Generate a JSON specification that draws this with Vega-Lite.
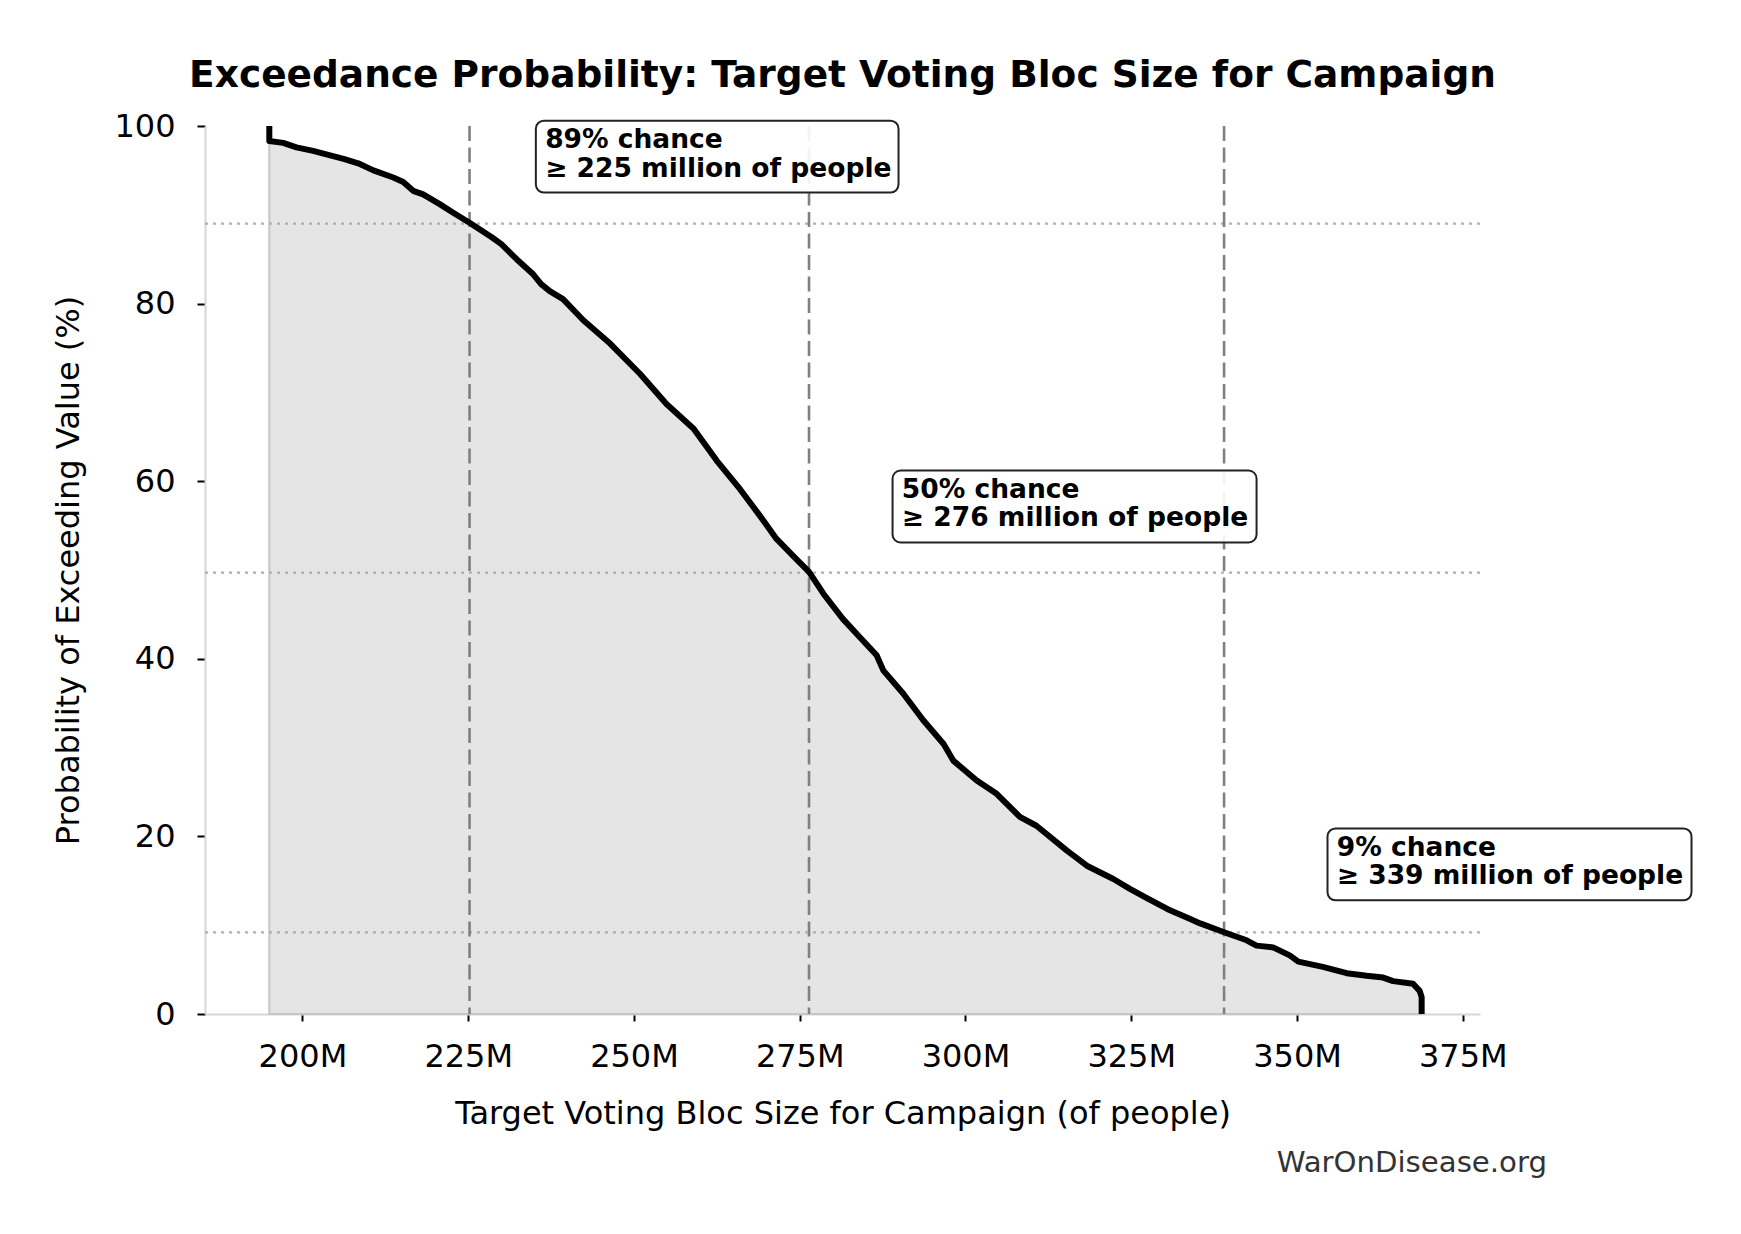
{
  "$schema": "https://vega.github.io/schema/vega-lite/v6.json",
  "autosize": "none",
  "width": 1275,
  "height": 888,
  "padding": {"left": 205, "top": 126, "right": 261, "bottom": 220},
  "background": "white",
  "title": {
    "text": "Exceedance Probability: Target Voting Bloc Size for Campaign",
    "fontSize": 37.5,
    "fontWeight": "bold",
    "color": "black",
    "anchor": "middle",
    "frame": "group",
    "baseline": "alphabetic",
    "offset": 8,
    "dy": 22
  },
  "config": {
    "font": "DejaVu Sans",
    "view": {"stroke": null},
    "axis": {
      "grid": false,
      "labelFont": "DejaVu Sans",
      "titleFont": "DejaVu Sans",
      "labelFontSize": 32,
      "titleFontSize": 32,
      "titleFontWeight": "normal",
      "labelColor": "black",
      "titleColor": "black",
      "tickColor": "black",
      "tickWidth": 2,
      "domainColor": "#d6d6d6",
      "domainWidth": 2
    }
  },
  "datasets": {
    "curve": [
      {"v": 195.0, "p": 100.0},
      {"v": 195.0, "p": 98.3},
      {"v": 197.1, "p": 98.1},
      {"v": 199.1, "p": 97.6},
      {"v": 201.6, "p": 97.2},
      {"v": 203.6, "p": 96.8},
      {"v": 206.2, "p": 96.3},
      {"v": 208.4, "p": 95.8},
      {"v": 210.7, "p": 95.0},
      {"v": 213.7, "p": 94.2},
      {"v": 215.2, "p": 93.7},
      {"v": 216.7, "p": 92.7},
      {"v": 218.2, "p": 92.3},
      {"v": 220.7, "p": 91.2},
      {"v": 222.8, "p": 90.2},
      {"v": 225.2, "p": 89.1},
      {"v": 228.5, "p": 87.5},
      {"v": 230.0, "p": 86.7},
      {"v": 232.3, "p": 85.0},
      {"v": 234.8, "p": 83.3},
      {"v": 236.0, "p": 82.2},
      {"v": 237.3, "p": 81.4},
      {"v": 239.3, "p": 80.5},
      {"v": 242.4, "p": 78.1},
      {"v": 246.4, "p": 75.5},
      {"v": 250.9, "p": 72.1},
      {"v": 254.9, "p": 68.7},
      {"v": 259.0, "p": 65.9},
      {"v": 262.5, "p": 62.3},
      {"v": 266.0, "p": 59.1},
      {"v": 269.0, "p": 56.1},
      {"v": 271.5, "p": 53.5},
      {"v": 274.0, "p": 51.6},
      {"v": 276.4, "p": 49.8},
      {"v": 278.6, "p": 47.3},
      {"v": 281.5, "p": 44.5},
      {"v": 284.1, "p": 42.4},
      {"v": 286.6, "p": 40.4},
      {"v": 287.6, "p": 38.7},
      {"v": 290.6, "p": 36.1},
      {"v": 293.6, "p": 33.1},
      {"v": 296.7, "p": 30.4},
      {"v": 298.2, "p": 28.5},
      {"v": 301.7, "p": 26.3},
      {"v": 304.7, "p": 24.8},
      {"v": 308.2, "p": 22.2},
      {"v": 310.7, "p": 21.2},
      {"v": 315.3, "p": 18.4},
      {"v": 318.3, "p": 16.7},
      {"v": 322.3, "p": 15.2},
      {"v": 324.8, "p": 14.1},
      {"v": 327.5, "p": 13.0},
      {"v": 330.5, "p": 11.8},
      {"v": 333.9, "p": 10.7},
      {"v": 335.4, "p": 10.2},
      {"v": 339.0, "p": 9.2},
      {"v": 342.4, "p": 8.3},
      {"v": 343.9, "p": 7.7},
      {"v": 346.4, "p": 7.5},
      {"v": 348.9, "p": 6.6},
      {"v": 350.2, "p": 5.9},
      {"v": 353.9, "p": 5.3},
      {"v": 357.5, "p": 4.6},
      {"v": 360.5, "p": 4.3},
      {"v": 363.0, "p": 4.1},
      {"v": 364.5, "p": 3.7},
      {"v": 367.5, "p": 3.4},
      {"v": 368.5, "p": 2.6},
      {"v": 368.8, "p": 1.9},
      {"v": 368.8, "p": 0.0}
    ],
    "thresholds": [
      {"pct": 89.0, "value": 225.2},
      {"pct": 49.7, "value": 276.4},
      {"pct": 9.2, "value": 339.0}
    ],
    "boxes": [
      {"x1": 235.2, "x2": 289.9, "y1": 100.6, "y2": 92.5},
      {"x1": 289.0, "x2": 343.9, "y1": 61.2, "y2": 53.1},
      {"x1": 354.6, "x2": 409.5, "y1": 20.9, "y2": 12.8}
    ],
    "labels": [
      {"text": "89% chance", "lx": 236.6, "ly": 97.5},
      {"text": "≥ 225 million of people", "lx": 236.6, "ly": 94.3},
      {"text": "50% chance", "lx": 290.4, "ly": 58.1},
      {"text": "≥ 276 million of people", "lx": 290.4, "ly": 54.9},
      {"text": "9% chance", "lx": 356.0, "ly": 17.8},
      {"text": "≥ 339 million of people", "lx": 356.0, "ly": 14.6}
    ],
    "footer": [
      {"text": "WarOnDisease.org", "fx": 387.7, "fy": -17.8}
    ]
  },
  "layer": [
    {
      "data": {"name": "curve"},
      "mark": {"type": "area", "fill": "#e5e5e5", "stroke": "#c6c6c6", "strokeWidth": 2},
      "encoding": {
        "x": {
          "field": "v",
          "type": "quantitative",
          "scale": {"domain": [185.3, 377.6], "nice": false, "zero": false},
          "axis": {
            "title": "Target Voting Bloc Size for Campaign (of people)",
            "values": [200, 225, 250, 275, 300, 325, 350, 375],
            "labelExpr": "datum.value + 'M'",
            "tickSize": 7,
            "labelPadding": 20,
            "titlePadding": 26
          }
        },
        "y": {
          "field": "p",
          "type": "quantitative",
          "stack": null,
          "scale": {"domain": [0, 100], "nice": false},
          "axis": {
            "title": "Probability of Exceeding Value (%)",
            "values": [0, 20, 40, 60, 80, 100],
            "tickSize": 8,
            "labelPadding": 22,
            "titlePadding": 28
          }
        }
      }
    },
    {
      "data": {"name": "thresholds"},
      "mark": {"type": "rule", "color": "#b0b0b0", "strokeWidth": 2.2, "strokeDash": [3, 5]},
      "encoding": {
        "y": {"field": "pct", "type": "quantitative"}
      }
    },
    {
      "data": {"name": "thresholds"},
      "mark": {"type": "rule", "color": "#808080", "strokeWidth": 2.6, "strokeDash": [15, 6.5]},
      "encoding": {
        "x": {"field": "value", "type": "quantitative"}
      }
    },
    {
      "data": {"name": "curve"},
      "mark": {"type": "line", "color": "black", "strokeWidth": 6, "strokeJoin": "round"},
      "encoding": {
        "x": {"field": "v", "type": "quantitative"},
        "y": {"field": "p", "type": "quantitative"},
        "order": {"field": "p", "sort": "descending"}
      }
    },
    {
      "data": {"name": "boxes"},
      "mark": {"type": "rect", "fill": "white", "fillOpacity": 0.9, "stroke": "#222222", "strokeWidth": 2, "cornerRadius": 8},
      "encoding": {
        "x": {"field": "x1", "type": "quantitative"},
        "x2": {"field": "x2"},
        "y": {"field": "y1", "type": "quantitative"},
        "y2": {"field": "y2"}
      }
    },
    {
      "data": {"name": "labels"},
      "mark": {"type": "text", "align": "left", "baseline": "alphabetic", "fontSize": 26.5, "fontWeight": "bold", "color": "black"},
      "encoding": {
        "x": {"field": "lx", "type": "quantitative"},
        "y": {"field": "ly", "type": "quantitative"},
        "text": {"field": "text"}
      }
    },
    {
      "data": {"name": "footer"},
      "mark": {"type": "text", "align": "right", "baseline": "alphabetic", "fontSize": 29.2, "color": "#333333"},
      "encoding": {
        "x": {"field": "fx", "type": "quantitative"},
        "y": {"field": "fy", "type": "quantitative"},
        "text": {"field": "text"}
      }
    }
  ]
}
